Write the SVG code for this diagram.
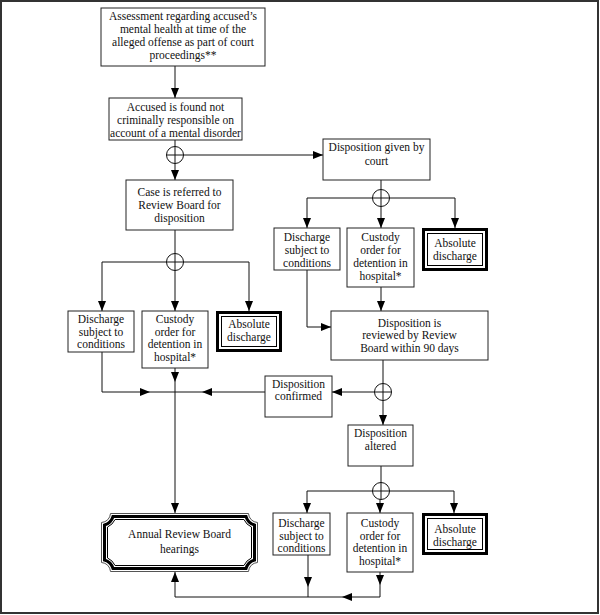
<svg xmlns="http://www.w3.org/2000/svg" width="600" height="615" viewBox="0 0 600 615">
<style>
.box{fill:#fff;stroke:#222;stroke-width:1}
.thick{fill:none;stroke:#000;stroke-width:3}
.thin{fill:none;stroke:#000;stroke-width:1}
.ln{fill:none;stroke:#111;stroke-width:1}
.ar{fill:none;stroke:#111;stroke-width:1;marker-end:url(#arr)}
.cir{fill:#fff;stroke:#111;stroke-width:1}
text{font-family:"Liberation Serif","Times New Roman",serif;font-size:11.5px;fill:#111;text-anchor:middle}
</style>
<defs>
<marker id="arr" markerUnits="userSpaceOnUse" markerWidth="10" markerHeight="8" refX="10" refY="4" orient="auto">
<path d="M0,0 L10,4 L0,8 Z" fill="#000"/>
</marker>
</defs>
<rect x="1" y="1" width="597" height="612" fill="#fff" stroke="#333" stroke-width="2"/>

<g id="connectors">
<path class="ar" d="M175,66 V98"/>
<path class="ar" d="M175,140 V180"/>
<path class="ar" d="M183,155 H323"/>
<path class="ln" d="M175,230 V262"/>
<path class="ln" d="M102,262 H249"/>
<path class="ar" d="M102,262 V311"/>
<path class="ar" d="M175,262 V311"/>
<path class="ar" d="M249,262 V311"/>
<path class="ln" d="M381,180 V198"/>
<path class="ln" d="M307,198 H455"/>
<path class="ar" d="M307,198 V228"/>
<path class="ar" d="M381,198 V228"/>
<path class="ar" d="M455,198 V228"/>
<path class="ar" d="M381,287 V311"/>
<path class="ar" d="M307,270 V327 H331"/>
<path class="ar" d="M383,360 V425"/>
<path class="ar" d="M375,392 H332"/>
<path class="ar" d="M265,392 H202"/>
<path class="ln" d="M202,392 H175"/>
<path class="ar" d="M102,352 V392 H150"/>
<path class="ln" d="M150,392 H175"/>
<path class="ar" d="M175,368 V382"/>
<path class="ar" d="M175,382 V513"/>
<path class="ln" d="M381,466 V491"/>
<path class="ln" d="M307,491 H454"/>
<path class="ar" d="M307,491 V513"/>
<path class="ar" d="M380,491 V513"/>
<path class="ar" d="M454,491 V513"/>
<path class="ar" d="M308,555 V587"/>
<path class="ln" d="M308,587 V597"/>
<path class="ar" d="M380,572 V585"/>
<path class="ln" d="M380,585 V597"/>
<path class="ar" d="M380,597 H342"/>
<path class="ar" d="M342,597 H175 V572"/>
<g id="junctions">
<circle class="cir" cx="175" cy="155" r="8.5"/><path class="ln" d="M166.5,155 H183.5 M175,146.5 V163.5"/>
<circle class="cir" cx="175" cy="262" r="8.5"/><path class="ln" d="M166.5,262 H183.5 M175,253.5 V270.5"/>
<circle class="cir" cx="381" cy="198" r="8.5"/><path class="ln" d="M372.5,198 H389.5 M381,189.5 V206.5"/>
<circle class="cir" cx="383" cy="392" r="8.5"/><path class="ln" d="M374.5,392 H391.5 M383,383.5 V400.5"/>
<circle class="cir" cx="381" cy="491" r="8.5"/><path class="ln" d="M372.5,491 H389.5 M381,482.5 V499.5"/>
</g>
</g>

<g id="assessment">
<rect class="box" x="101" y="8" width="164" height="58"/>
<text x="183" y="20">Assessment regarding accused’s</text>
<text x="183" y="33">mental health at time of the</text>
<text x="183" y="46">alleged offense as part of court</text>
<text x="183" y="59">proceedings**</text>
</g>

<g id="ncr">
<rect class="box" x="109" y="98" width="133" height="42"/>
<text x="175.5" y="111">Accused is found not</text>
<text x="175.5" y="124">criminally responsible on</text>
<text x="175.5" y="137">account of a mental disorder</text>
</g>

<g id="referred">
<rect class="box" x="126" y="180" width="107" height="50"/>
<text x="179.5" y="196">Case is referred to</text>
<text x="179.5" y="209">Review Board for</text>
<text x="179.5" y="222">disposition</text>
</g>

<g id="court">
<rect class="box" x="323" y="139" width="107" height="41"/>
<text x="376.5" y="151">Disposition given by</text>
<text x="376.5" y="165">court</text>
</g>

<g id="discharge-court">
<rect class="box" x="274" y="228" width="66" height="42"/>
<text x="307" y="241">Discharge</text>
<text x="307" y="254">subject to</text>
<text x="307" y="267">conditions</text>
</g>

<g id="custody-court">
<rect class="box" x="347" y="228" width="67" height="59"/>
<text x="380.5" y="241">Custody</text>
<text x="380.5" y="254">order for</text>
<text x="380.5" y="267">detention in</text>
<text x="380.5" y="280">hospital*</text>
</g>

<g id="absolute-court">
<rect class="thick" x="423.5" y="229.5" width="63" height="40"/>
<rect class="thin" x="427.5" y="233.5" width="55" height="32"/>
<text x="455" y="247">Absolute</text>
<text x="455" y="260">discharge</text>
</g>

<g id="reviewed">
<rect class="box" x="331" y="311" width="157" height="49"/>
<text x="409.5" y="327">Disposition is</text>
<text x="409.5" y="339">reviewed by Review</text>
<text x="409.5" y="352">Board within 90 days</text>
</g>

<g id="discharge-board">
<rect class="box" x="68" y="311" width="66" height="41"/>
<text x="101" y="323">Discharge</text>
<text x="101" y="336">subject to</text>
<text x="101" y="348">conditions</text>
</g>

<g id="custody-board">
<rect class="box" x="142" y="311" width="66" height="57"/>
<text x="175" y="323">Custody</text>
<text x="175" y="336">order for</text>
<text x="175" y="348">detention in</text>
<text x="175" y="361">hospital*</text>
</g>

<g id="absolute-board">
<rect class="thick" x="217.5" y="312.5" width="63" height="38"/>
<rect class="thin" x="221.5" y="316.5" width="55" height="30"/>
<text x="249" y="328">Absolute</text>
<text x="249" y="341">discharge</text>
</g>

<g id="confirmed">
<rect class="box" x="265" y="376" width="67" height="41"/>
<text x="298.5" y="388">Disposition</text>
<text x="298.5" y="400">confirmed</text>
</g>

<g id="altered">
<rect class="box" x="348" y="425" width="65" height="41"/>
<text x="380.5" y="437">Disposition</text>
<text x="380.5" y="450">altered</text>
</g>

<g id="annual">
<path fill="#fff" stroke="#555" stroke-width="1" d="M110.49,513.5 H248.51 A9.5,9.5 0 0 0 257.5,522.49 V562.51 A9.5,9.5 0 0 0 248.51,571.5 H110.49 A9.5,9.5 0 0 0 101.5,562.51 V522.49 A9.5,9.5 0 0 0 110.49,513.5 Z"/>
<path class="thick" d="M113,516.5 H246 A12.5,12.5 0 0 0 254.5,525 V560 A12.5,12.5 0 0 0 246,568.5 H113 A12.5,12.5 0 0 0 104.5,560 V525 A12.5,12.5 0 0 0 113,516.5 Z"/>
<path class="thin" d="M115.07,519.5 H243.93 A15.5,15.5 0 0 0 251.5,527.07 V557.93 A15.5,15.5 0 0 0 243.93,565.5 H115.07 A15.5,15.5 0 0 0 107.5,557.93 V527.07 A15.5,15.5 0 0 0 115.07,519.5 Z"/>
<text x="179.5" y="538">Annual Review Board</text>
<text x="179.5" y="553">hearings</text>
</g>

<g id="discharge-altered">
<rect class="box" x="273" y="513" width="57" height="42"/>
<text x="301.5" y="527">Discharge</text>
<text x="301.5" y="540">subject to</text>
<text x="301.5" y="552">conditions</text>
</g>

<g id="custody-altered">
<rect class="box" x="347" y="513" width="66" height="59"/>
<text x="380" y="527">Custody</text>
<text x="380" y="540">order for</text>
<text x="380" y="552">detention in</text>
<text x="380" y="565">hospital*</text>
</g>

<g id="absolute-altered">
<rect class="thick" x="423.5" y="514.5" width="63" height="39"/>
<rect class="thin" x="427.5" y="518.5" width="55" height="31"/>
<text x="455" y="533">Absolute</text>
<text x="455" y="546">discharge</text>
</g>
</svg>
